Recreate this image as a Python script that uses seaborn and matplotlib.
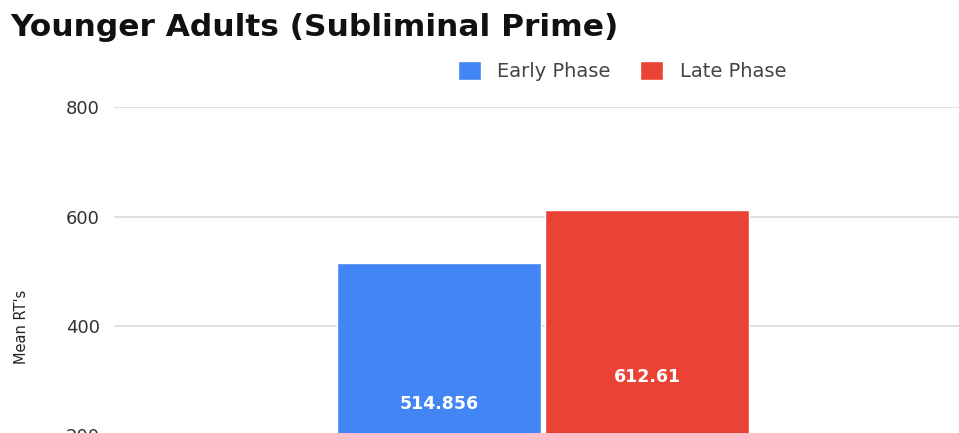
import matplotlib
matplotlib.use("Agg")
import matplotlib.pyplot as plt
import seaborn as sns
import pandas as pd

# Mean reaction times, younger adults, subliminal prime condition
condition = ["Subliminal Prime"]
phases = ["Early Phase", "Late Phase"]
mean_rt = [514.856, 612.61]
y_ticks = [0, 200, 400, 600, 800]
colors = ["#4285F4", "#EA4335"]

df = pd.DataFrame({
    "condition": condition * len(phases),
    "phase": phases,
    "rt": mean_rt,
})

sns.set_theme(style="white")
plt.rcParams["font.family"] = ["DejaVu Sans"]

fig = plt.figure(figsize=(9.59, 4.33), dpi=100)
ax = fig.add_axes([114 / 959, (433 - 545) / 433, 858 / 959, (545 - 107) / 433])

sns.barplot(data=df, x="condition", y="rt", hue="phase", hue_order=phases,
            palette=colors, width=0.486, gap=0.02, saturation=1,
            errorbar=None, ax=ax, legend=True)

ax.set_xlim(-0.5, 0.5)
ax.set_ylim(0, 800)
ax.set_yticks(y_ticks)
ax.set_yticklabels([str(t) for t in y_ticks])
ax.yaxis.grid(True, color="#d6d6d6", linewidth=1.1)
ax.set_axisbelow(True)
for s in ax.spines.values():
    s.set_visible(False)
ax.tick_params(axis="y", length=0, pad=10, labelsize=13, labelcolor="#333333")
ax.tick_params(axis="x", length=0, labelbottom=False)
ax.set_xlabel("")
ax.set_ylabel("")

# value labels centred inside each bar
for container, v in zip(ax.containers, mean_rt):
    ax.bar_label(container, labels=[f"{v:g}"], label_type="center",
                 color="white", fontsize=12.5, fontweight="bold")

# legend across the top
handles, labels = ax.get_legend_handles_labels()
ax.get_legend().remove()
fig.legend(handles, labels, loc="center", bbox_to_anchor=(622 / 959, 1 - 71 / 433),
           ncol=2, frameon=False, fontsize=14, handlelength=1.2, handleheight=1.15,
           handletextpad=0.85, columnspacing=1.5, labelcolor="#444444")

fig.text(10 / 959, 1 - 27 / 433, "Younger Adults (Subliminal Prime)",
         fontsize=22.5, fontweight="bold", color="#111111", va="center", ha="left")
fig.text(22 / 959, 1 - 327 / 433, "Mean RT's", rotation=90, fontsize=10.5,
         color="#222222", va="center", ha="center")

fig.savefig("out.png", dpi=100)
